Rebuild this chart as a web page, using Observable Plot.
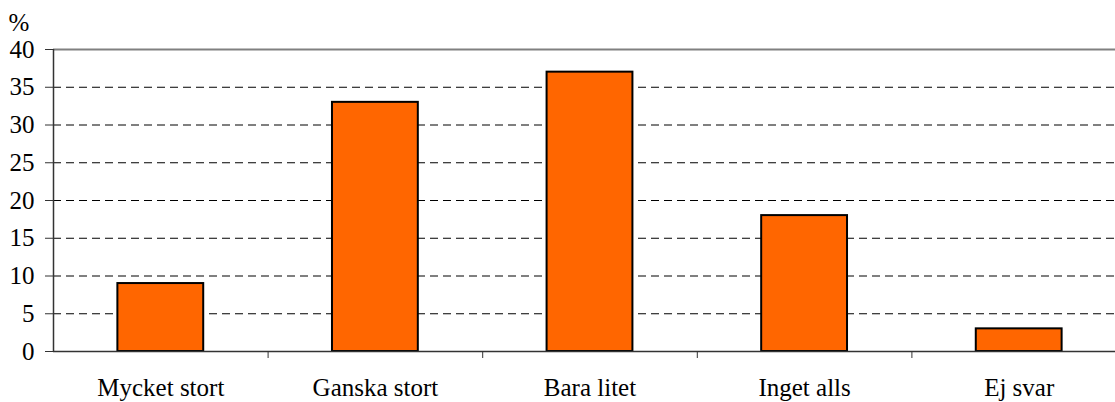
<!DOCTYPE html>
<html>
<head>
<meta charset="utf-8">
<script src="https://cdn.jsdelivr.net/npm/d3@7"></script>
<script src="https://cdn.jsdelivr.net/npm/@observablehq/plot@0.6"></script>
<style>
  html, body { margin: 0; padding: 0; background: #fff; overflow: hidden; }
  #chart { width: 1115px; height: 402px; overflow: hidden; }
  #chart svg { max-width: none !important; font-family: "Liberation Serif", "Times New Roman", serif !important; }
  #chart svg text, #chart svg g { font-family: "Liberation Serif", "Times New Roman", serif !important; }
</style>
</head>
<body>
<div id="chart"></div>
<script>
const categories = ["Mycket stort", "Ganska stort", "Bara litet", "Inget alls", "Ej svar"];
const values = [9, 33, 37, 18, 3];
const yTicks = [0, 5, 10, 15, 20, 25, 30, 35, 40];
const yUnit = "%";

const data = categories.map((c, i) => ({ c, v: values[i], i }));
const font = "Liberation Serif";

const chart = Plot.plot({
  width: 1126,
  height: 402,
  marginLeft: 53,
  marginRight: 0,
  marginTop: 49,
  marginBottom: 51,
  style: { fontFamily: font, fontSize: "25px", color: "#000", background: "#fff", maxWidth: "none" },
  x: { domain: [0, categories.length], axis: null },
  y: { domain: [0, 40], axis: null },
  marks: [
    Plot.ruleY(yTicks.filter(t => t > 0 && t < 40), { stroke: "#000", strokeWidth: 1, strokeDasharray: "8,5" }),
    Plot.ruleY([40], { stroke: "#808080", strokeWidth: 2 }),
    Plot.rectY(data, { x1: d => d.i + 0.3, x2: d => d.i + 0.7, y: "v", fill: "#FF6600", stroke: "#000", strokeWidth: 2 }),
    Plot.ruleY([0], { stroke: "#333", strokeWidth: 1.5 }),
    Plot.ruleX([0], { stroke: "#333", strokeWidth: 1.5 }),
    Plot.axisY({ ticks: yTicks, tickSize: 8, tickPadding: 11, fontSize: 25, fontFamily: font, label: null, stroke: "#333", fill: "#000" }),
    Plot.axisX({ ticks: [1, 2, 3, 4], tickSize: 7, tickFormat: () => "", label: null, stroke: "#333" }),
    Plot.axisX({ ticks: data.map(d => d.i + 0.5), tickSize: 0, tickPadding: 27, fontSize: 25, fontFamily: font, label: null,
      tickFormat: t => categories[Math.floor(t)], fill: "#000" }),
    Plot.text([yUnit], { frameAnchor: "top-left", textAnchor: "start", lineAnchor: "bottom", dx: -45, dy: -19, fontSize: 25, fontFamily: font, fill: "#000" })
  ]
});
document.getElementById("chart").appendChild(chart);
</script>
</body>
</html>
